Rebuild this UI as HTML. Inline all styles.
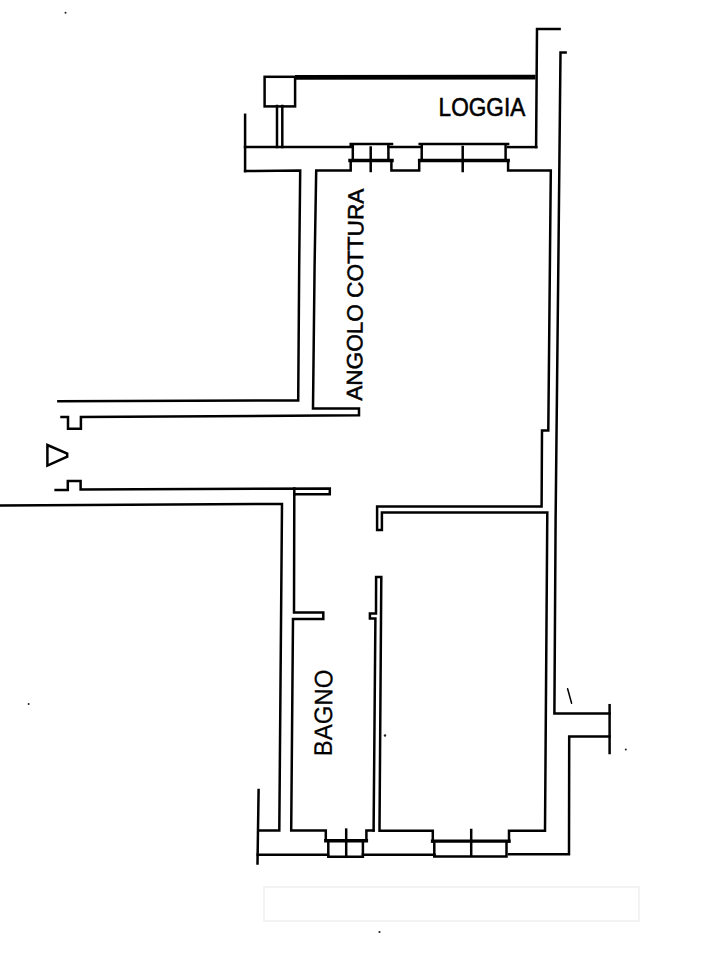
<!DOCTYPE html>
<html><head><meta charset="utf-8"><title>Pianta</title>
<style>
html,body{margin:0;padding:0;background:#fff;}
body{width:703px;height:966px;overflow:hidden;position:relative;}
svg{position:absolute;left:0;top:0;}
.t{font-family:"Liberation Sans",sans-serif;fill:#000;stroke:#000;stroke-width:0.5px;}
</style></head>
<body>
<svg width="703" height="966" viewBox="0 0 703 966">
<g fill="none" stroke="#000" stroke-width="2.5" stroke-linecap="square" stroke-linejoin="miter">
<!-- LOGGIA -->
<rect x="264.6" y="76.8" width="30.5" height="29.6"/>
<line x1="277" y1="106" x2="277" y2="147"/>
<line x1="282.3" y1="106" x2="282.3" y2="147"/>
<line x1="245.1" y1="114.8" x2="245.1" y2="171.1"/>
<polyline points="536.1,147.1 537,29 559.6,29"/>
<line x1="295" y1="77.4" x2="535.5" y2="77.1" stroke-width="4.8" stroke-linecap="butt"/>
<!-- top wall outer with windows -->
<polyline points="245,147 350.7,147 350.7,144.1 392,144.1"/>
<polyline points="352.8,144.5 352.8,160.5"/>
<polyline points="388.4,144.5 388.4,160.5"/>
<line x1="370.7" y1="147.5" x2="370.7" y2="171"/>
<polyline points="388.4,146.9 421.7,146.9"/>
<polyline points="419.2,160.5 419.2,170.4 391.4,170.4 391.4,160.5"/>
<polyline points="419.7,144.1 508.1,144.1"/>
<line x1="421.7" y1="144.5" x2="421.7" y2="160.5"/>
<line x1="505.6" y1="144.5" x2="505.6" y2="160.5"/>
<line x1="462.7" y1="147" x2="462.7" y2="171"/>
<polyline points="508.1,147.1 536.3,147.1"/>
<line x1="350" y1="160.5" x2="392" y2="160.5" stroke-width="3.5"/>
<line x1="419.7" y1="160.5" x2="508.1" y2="160.5" stroke-width="3.5"/>
<polyline points="245.1,171.1 300.2,170.6 299.2,265 298.2,400.4 58.4,401.3"/>
<polyline points="350.7,160.5 350.7,170.5 316.2,170.5 314.6,265 313,408.5 359,408.5 359,415.3 80.9,416.9 80.9,428.8 68,428.8 68,417.1 61.5,417.1"/>
<polyline points="508.1,160.5 508.1,170.5 550.8,170.5 548.3,430.4 542,430.4 541.6,506.6 377.1,506.4 377.1,530 381.9,530 381.9,512.4 547.3,512.6 545.0,830.7 509,830.7 509,841.4"/>
<!-- outer right -->
<polyline points="565.6,52.6 560.5,52.6 558.6,240 557.1,380 555.6,520 554.4,713.5 609.6,713.5"/>
<line x1="609.6" y1="705.2" x2="609.6" y2="753"/>
<polyline points="609.6,736.5 569.2,736.5 569,854.2 509,854.2"/>
<!-- corridor -->
<polyline points="55.6,490 67.8,490 67.8,481.1 80.6,481.1 80.6,489.5 329.8,488.5 329.8,494.2 294.3,494.2 294,612.4 323.3,612.4 323.3,619 293,619 291.2,830.4 325.8,830.4 325.8,840.6"/>
<polyline points="0,505.6 282,503.9 279.3,830.5 258.3,830.5"/>
<line x1="294.3" y1="488.5" x2="294.3" y2="494.2"/>
<line x1="258.6" y1="790" x2="257.5" y2="863.6"/>
<polyline points="257.8,854.7 328,854.7"/>
<!-- bath / bedroom wall -->
<polyline points="373.6,830.5 375.4,618.4 369.9,618.4 369.9,613.4 376,613.4 376.1,576.9 381.3,576.9 379.5,830.7 432.8,830.7 432.8,841.4"/>
<polyline points="366.4,840.6 366.4,830.5 373.6,830.5"/>
<!-- bottom windows -->
<line x1="325.8" y1="840.8" x2="366.4" y2="840.8" stroke-width="3.4"/>
<polyline points="328.3,840.6 328.3,856.8 362.9,856.8 362.9,840.6"/>
<line x1="346.2" y1="829.6" x2="346.2" y2="856.8"/>
<polyline points="362.9,854.7 434.6,854.7"/>
<line x1="432.6" y1="841.1" x2="509" y2="841.1" stroke-width="3.4"/>
<polyline points="434.3,841.4 434.3,856.6 506.5,856.6 506.5,841.4"/>
<line x1="471.2" y1="830" x2="471.2" y2="855.5"/>
<!-- entrance triangle -->
<polygon points="47.4,445 67.2,453.6 67.2,456.6 47.4,465.6"/>
<line x1="567.6" y1="688.8" x2="571.6" y2="703.2" stroke-width="1.5" stroke-linecap="round"/>
</g>
<rect x="264" y="887" width="375" height="34" fill="none" stroke="#f3f3f3" stroke-width="2"/>
<g fill="#222">
<circle cx="385" cy="735.5" r="1.2"/>
<circle cx="625.8" cy="749.6" r="1"/>
<circle cx="65.5" cy="12.8" r="1"/>
<circle cx="28.6" cy="704" r="1"/>
<circle cx="379.5" cy="932" r="1.1"/>
</g>
<text class="t" transform="translate(438.6,116.2) scale(1.0,1.13)" font-size="22.6">LOGGIA</text>
<text class="t" transform="translate(362.0,400.8) rotate(-89.6) scale(1,0.98)" font-size="22.6">ANGOLO COTTURA</text>
<text class="t" transform="translate(331.8,756.2) rotate(-89.6) scale(1.06,1.12)" font-size="22.6" style="stroke-width:0.2px">BAGNO</text>
</svg>
</body></html>
